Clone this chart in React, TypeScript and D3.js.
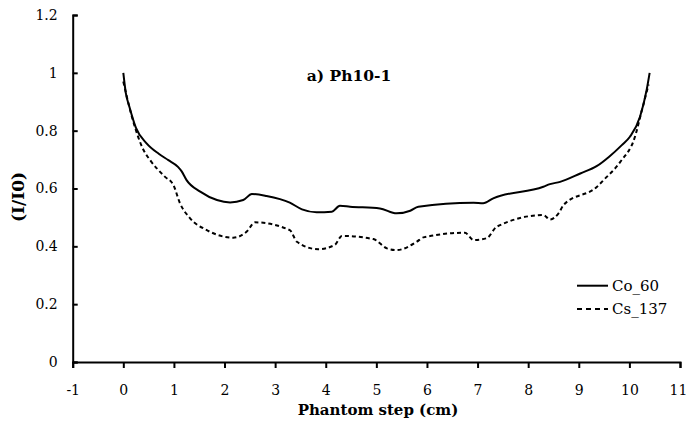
import React, { useEffect, useRef } from "react";
import * as d3 from "d3";

const coSteps = [0, 0.05, 0.12, 0.25, 0.46, 0.7, 0.89, 1.08, 1.15, 1.25, 1.52, 1.85, 2.11, 2.37, 2.54, 2.83, 3.29, 3.53, 3.82, 4.12, 4.28, 4.48, 5.07, 5.4, 5.67, 5.83, 6.92, 7.11, 7.31, 8.3, 8.43, 8.63, 9.03, 9.36, 9.6, 9.85, 10.01, 10.21, 10.34, 10.4];
const coValues = [1.0, 0.93, 0.883, 0.81, 0.756, 0.72, 0.698, 0.675, 0.66, 0.629, 0.589, 0.56, 0.552, 0.56, 0.581, 0.574, 0.551, 0.528, 0.518, 0.52, 0.54, 0.537, 0.531, 0.514, 0.523, 0.537, 0.551, 0.549, 0.566, 0.606, 0.615, 0.623, 0.652, 0.678, 0.71, 0.75, 0.779, 0.848, 0.94, 1.0];

const csSteps = [0, 0.17, 0.4, 0.53, 0.82, 0.99, 1.12, 1.32, 1.65, 2.17, 2.44, 2.6, 3.29, 3.43, 3.85, 4.18, 4.32, 4.94, 5.21, 5.4, 5.8, 5.93, 6.75, 6.92, 7.18, 7.38, 8.3, 8.43, 8.6, 8.7, 9.36, 9.49, 9.82, 10.11, 10.24, 10.38];
const csValues = [0.97, 0.848, 0.733, 0.698, 0.641, 0.612, 0.549, 0.497, 0.456, 0.43, 0.451, 0.483, 0.456, 0.416, 0.39, 0.405, 0.436, 0.425, 0.393, 0.387, 0.416, 0.431, 0.447, 0.422, 0.428, 0.468, 0.508, 0.493, 0.514, 0.543, 0.606, 0.629, 0.692, 0.779, 0.866, 0.96];

const xTicks = [-1, 0, 1, 2, 3, 4, 5, 6, 7, 8, 9, 10, 11];
const yTicks = [0, 0.2, 0.4, 0.6, 0.8, 1, 1.2];

const FONT = "'DejaVu Serif', 'Liberation Serif', serif";

export default function App() {
  const ref = useRef<SVGSVGElement>(null);

  useEffect(() => {
    const svg = d3.select(ref.current);
    svg.selectAll("*").remove();

    const x = d3.scaleLinear().domain([-1, 11]).range([72.7, 680]);
    const y = d3.scaleLinear().domain([0, 1.2]).range([362, 15]);

    const xg = svg.append("g").attr("transform", "translate(0,362)")
      .call(d3.axisBottom(x).tickValues(xTicks).tickFormat(d => String(d)).tickSizeInner(6).tickSizeOuter(6).tickPadding(17));
    const yg = svg.append("g").attr("transform", "translate(72.7,0)")
      .call(d3.axisLeft(y).tickValues(yTicks).tickFormat(d => String(d)).tickSizeInner(-5).tickSizeOuter(-5).tickPadding(15));

    [xg, yg].forEach(g => {
      g.attr("font-family", FONT).attr("font-size", 14);
      g.selectAll("path, line").attr("stroke", "#000").attr("stroke-width", 2);
      g.selectAll("text").attr("fill", "#000");
    });
    // keep the last x label inside the picture
    xg.selectAll<SVGTextElement, number>("text").filter(d => d === 11).attr("dx", -2);

    const line = d3.line<[number, number]>().x(d => x(d[0])).y(d => y(d[1])).curve(d3.curveMonotoneX);
    const co = coSteps.map((s, i) => [s, coValues[i]] as [number, number]);
    const cs = csSteps.map((s, i) => [s, csValues[i]] as [number, number]);

    svg.append("path").datum(cs).attr("d", line).attr("fill", "none")
      .attr("stroke", "#000").attr("stroke-width", 2).attr("stroke-dasharray", "4,3");
    svg.append("path").datum(co).attr("d", line).attr("fill", "none")
      .attr("stroke", "#000").attr("stroke-width", 2);

    svg.append("text").attr("x", 349).attr("y", 81).attr("text-anchor", "middle")
      .attr("font-family", FONT).attr("font-size", 15.5).attr("font-weight", "bold").text("a) Ph10-1");

    svg.append("text").attr("x", 378).attr("y", 415).attr("text-anchor", "middle")
      .attr("font-family", FONT).attr("font-size", 15).attr("font-weight", "bold").text("Phantom step (cm)");

    svg.append("text").attr("transform", "translate(24,197) rotate(-90)").attr("text-anchor", "middle")
      .attr("font-family", FONT).attr("font-size", 17).attr("font-weight", "bold").text("(I/I0)");

    // legend
    const legend = [
      { name: "Co_60", dash: null, y: 285.7 },
      { name: "Cs_137", dash: "5,4", y: 309 },
    ];
    legend.forEach(l => {
      svg.append("line").attr("x1", 577).attr("x2", 608).attr("y1", l.y).attr("y2", l.y)
        .attr("stroke", "#000").attr("stroke-width", 2).attr("stroke-dasharray", l.dash);
      svg.append("text").attr("x", 612).attr("y", l.y).attr("dy", "0.35em")
        .attr("font-family", FONT).attr("font-size", 15).text(l.name);
    });
  }, []);

  return (
    <svg ref={ref} width={686} height={423} style={{ position: "absolute", left: 0, top: 0, background: "#fff" }} />
  );
}
